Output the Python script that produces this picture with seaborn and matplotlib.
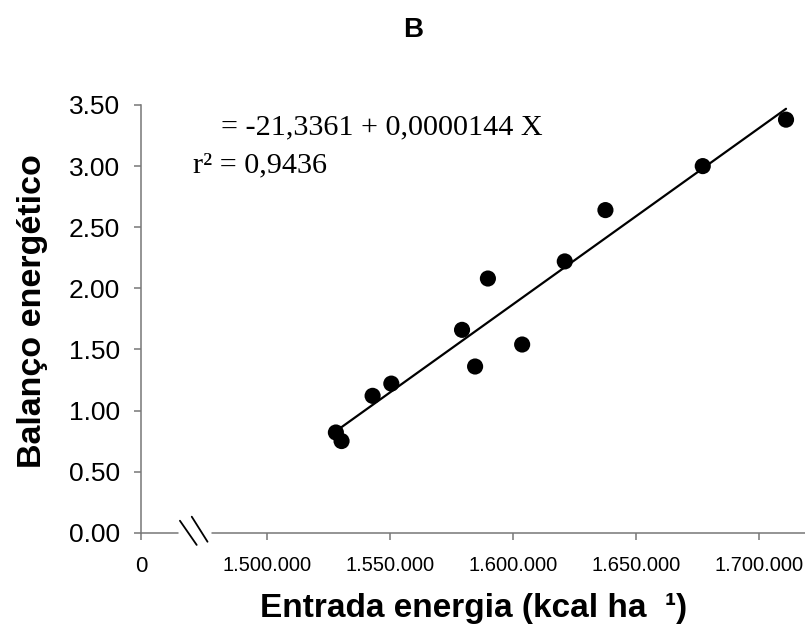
import numpy as np
import pandas as pd
import matplotlib
matplotlib.use("Agg")
import matplotlib.pyplot as plt
import seaborn as sns

# Energy input (kcal/ha) and energy balance for each observation
entrada = [1528100, 1530400, 1543000, 1550600, 1579300, 1584600,
           1589800, 1603700, 1621000, 1637500, 1677000, 1710800]
balanco = [0.82, 0.75, 1.12, 1.22, 1.66, 1.36,
           2.08, 1.54, 2.22, 2.64, 3.00, 3.38]

x_ticks = [1500000, 1550000, 1600000, 1650000, 1700000]
x_tick_labels = ["1.500.000", "1.550.000", "1.600.000", "1.650.000", "1.700.000"]
y_ticks = [0.0, 0.5, 1.0, 1.5, 2.0, 2.5, 3.0, 3.5]
y_tick_labels = ["0.00", "0.50", "1.00", "1.50", "2.00", "2.50", "3.00", "3.50"]

equacao = "= -21,3361 + 0,0000144 X"
r2_texto = "r\u00b2 = 0,9436"

df = pd.DataFrame({"entrada": entrada, "balanco": balanco})

sns.set_theme(style="white")
plt.rcParams["font.family"] = ["Liberation Sans", "DejaVu Sans"]
plt.rcParams["text.color"] = "black"
plt.rcParams["xtick.color"] = "black"
plt.rcParams["ytick.color"] = "black"

fig = plt.figure(figsize=(8.05, 6.31), dpi=100)
ax = fig.add_axes([141 / 805, 1 - 532.7 / 631, 1 - 141 / 805, (532.7 - 105) / 631])

x_left, x_right = 1449000, 1718500
gap_a, gap_b = 1464000, 1477800

sns.regplot(data=df, x="entrada", y="balanco", ci=None, ax=ax,
            scatter_kws=dict(s=135, color="black", edgecolor="none",
                             alpha=1, zorder=3),
            line_kws=dict(color="black", lw=1.6, zorder=2))

ax.set_xlim(x_left, x_right)
ax.set_ylim(0, 3.5)

# Axes styling: only the left spine, bottom axis drawn by hand with a break
for side in ("top", "right", "bottom"):
    ax.spines[side].set_visible(False)
axis_col = "#777777"
ax.spines["left"].set_color(axis_col)
ax.spines["left"].set_linewidth(1.1)

ax.plot([x_left, gap_a], [0, 0], color=axis_col, lw=1.1, clip_on=False, zorder=1)
ax.plot([gap_b, x_right], [0, 0], color=axis_col, lw=1.1, clip_on=False, zorder=1)
# break marks
ax.plot([1464800, 1471600], [0.098, -0.10], color="black", lw=1.3, clip_on=False)
ax.plot([1469600, 1476000], [0.131, -0.074], color="black", lw=1.3, clip_on=False)

ax.set_yticks(y_ticks)
ax.set_yticklabels(y_tick_labels, fontsize=19)
ax.set_xticks([x_left] + x_ticks)
ax.set_xticklabels(["0"] + x_tick_labels, fontsize=14.5)
ax.get_xticklabels()[0].set_fontsize(16)
ax.tick_params(axis="both", direction="out", length=5, width=1.1,
               color=axis_col, left=True, bottom=True)
ax.tick_params(axis="x", pad=12)
ax.tick_params(axis="y", pad=10)

ax.set_xlabel("")
ax.set_ylabel("")

fig.text(474 / 805, 1 - 608 / 631, "Entrada energia (kcal ha  \u00b9)",
         ha="center", va="center", fontsize=24, fontweight="bold")
fig.text(33 / 805, 1 - 311 / 631, "Balanço energético", rotation=90,
         ha="center", va="center", fontsize=24.5, fontweight="bold")
fig.text(413 / 805, 1 - 30 / 631, "B", ha="center", va="center",
         fontsize=20, fontweight="bold")

fig.text(221 / 805, 1 - 127 / 631, equacao, ha="left", va="center",
         fontsize=21.7, family=["Liberation Serif", "DejaVu Serif"])
fig.text(193 / 805, 1 - 165 / 631, r2_texto, ha="left", va="center",
         fontsize=21.7, family=["Liberation Serif", "DejaVu Serif"])

fig.savefig("out.png", dpi=100, facecolor="white")
